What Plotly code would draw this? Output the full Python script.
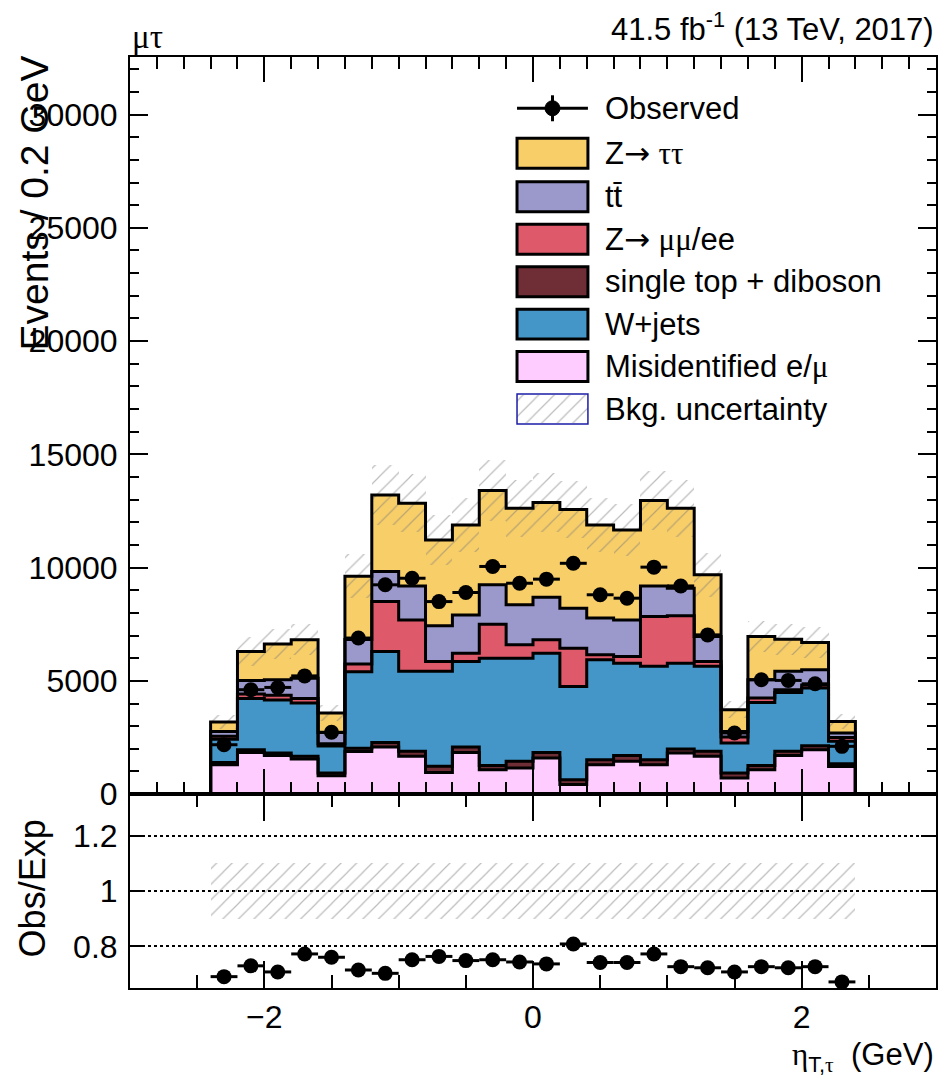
import plotly.graph_objects as go

# ---------------- data ----------------
bin_lo = -2.4
bin_w = 0.2
x_min, x_max = -3.0, 3.0

misid = [1300, 1840, 1700, 1550, 810, 1880, 2080, 1670, 960, 1840, 1080, 1150,
         1590, 420, 1300, 1450, 1300, 1810, 1670, 710, 1080, 1700, 1960, 1220]
stvv = [100, 120, 110, 120, 120, 140, 200, 220, 270, 240, 180, 300,
        250, 220, 220, 250, 220, 180, 220, 220, 180, 190, 180, 120]
wjets = [1020, 2260, 2340, 2350, 1190, 3380, 4020, 3530, 4190, 3780, 4740, 4550,
         4380, 4110, 4410, 4080, 4120, 3790, 3750, 1330, 2790, 2600, 2540, 990]
dyll = [140, 200, 210, 200, 100, 340, 2200, 2270, 440, 360, 1500, 590,
        590, 1690, 220, 300, 2200, 2090, 220, 260, 190, 120, 140, 170]
ttbar = [200, 600, 690, 900, 500, 1090, 1330, 1500, 1570, 1690, 1740, 1770,
         1880, 1770, 1620, 1610, 1350, 1220, 1100, 250, 810, 810, 670, 200]
ztt = [420, 1280, 1580, 1690, 860, 2790, 3370, 3650, 3790, 3970, 4160, 4260,
       4180, 4360, 4110, 3970, 3770, 3530, 2720, 950, 1910, 1420, 1200, 510]
observed = [2180, 4610, 4710, 5220, 2730, 6890, 9240, 9530, 8500, 8900, 10050, 9310,
            9490, 10190, 8800, 8650, 10020, 9190, 7030, 2700, 5050, 5020, 4870, 2110]
ratio = [0.691, 0.730, 0.708, 0.773, 0.761, 0.715, 0.703, 0.752, 0.764, 0.749, 0.752, 0.744,
         0.737, 0.809, 0.742, 0.742, 0.773, 0.727, 0.723, 0.708, 0.727, 0.723, 0.727, 0.672]
bkg_unc = [0.10, 0.10, 0.10, 0.10, 0.10, 0.10, 0.10, 0.10, 0.10, 0.10, 0.10, 0.10,
           0.10, 0.10, 0.10, 0.10, 0.10, 0.10, 0.10, 0.10, 0.10, 0.10, 0.10, 0.10]

names = ["Misidentified e/μ", "single top + diboson", "W+jets", "Z→ μμ/ee", "tt̄", "Z→ ττ"]
colors = ["#FFCCFF", "#6F2D35", "#4496C8", "#DE5A6A", "#9B98CC", "#F8CE68"]
components = [misid, stvv, wjets, dyll, ttbar, ztt]

# ---------------- geometry ----------------
W, H = 940, 1087
L, R, T, B = 129.5, 3.5, 56.7, 98.7
PW, PH = W - L - R, H - T - B
split = 194.0 / PH
y_max = 32540

def px(xp):
    return (xp - L) / PW

def py(yp):
    return (H - B - yp) / PH

nb = len(observed)
centers = [round(bin_lo + bin_w * (i + 0.5), 3) for i in range(nb)]
edges = [round(bin_lo + bin_w * i, 3) for i in range(nb + 1)]

hatch = dict(shape="/", fgcolor="#7a7a7a", bgcolor="rgba(0,0,0,0)", size=11, solidity=0.11)

fig = go.Figure()

# stacked histogram
cum = [0.0] * nb
tops = []
for comp, col, nm in zip(components, colors, names):
    fig.add_trace(go.Bar(x=centers, y=comp, base=cum[:], width=bin_w,
                         marker=dict(color=col, line=dict(width=0)),
                         name=nm, showlegend=False, xaxis="x", yaxis="y"))
    cum = [c + v for c, v in zip(cum, comp)]
    tops.append(cum[:])
total = cum

# uncertainty band (main)
fig.add_trace(go.Bar(x=centers, y=[2 * u * t for u, t in zip(bkg_unc, total)],
                     base=[t * (1 - u) for u, t in zip(bkg_unc, total)], width=bin_w,
                     marker=dict(color="rgba(0,0,0,0)", line=dict(width=0), pattern=hatch),
                     showlegend=False, xaxis="x", yaxis="y"))

# histogram outlines (steps)
for top in tops:
    xs = [x_min] + edges[:-1] + [edges[-1], x_max]
    ys = [0] + top + [0, 0]
    fig.add_trace(go.Scatter(x=xs, y=ys, mode="lines", line=dict(color="black", width=3, shape="hv"),
                             showlegend=False, hoverinfo="skip", xaxis="x", yaxis="y"))

# observed
fig.add_trace(go.Scatter(x=centers, y=observed, mode="markers",
                         marker=dict(color="black", size=15),
                         error_x=dict(type="constant", value=bin_w / 2, thickness=3, width=0, color="black"),
                         showlegend=False, xaxis="x", yaxis="y"))

# ratio panel
fig.add_trace(go.Bar(x=centers, y=[2 * u for u in bkg_unc], base=[1 - u for u in bkg_unc], width=bin_w,
                     marker=dict(color="rgba(0,0,0,0)", line=dict(width=0), pattern=hatch),
                     showlegend=False, xaxis="x2", yaxis="y2"))
fig.add_trace(go.Scatter(x=centers, y=ratio, mode="markers",
                         marker=dict(color="black", size=15),
                         error_x=dict(type="constant", value=bin_w / 2, thickness=3, width=0, color="black"),
                         showlegend=False, xaxis="x2", yaxis="y2"))

# ---------------- legend (pixel-space overlay axes) ----------------
leg_rows = [108, 153, 196.5, 239, 281.5, 324, 366.5, 409]
box_x0, box_x1, box_h = 517, 588, 30
text_x = 603
font_main = "Liberation Sans, Arial, sans-serif"
SERIF = "<span style=\"font-family:Liberation Serif\">"
ARROW = "<span style=\"font-family:DejaVu Sans\">→</span>"
shapes = []
annotations = []

# Observed entry
shapes.append(dict(type="line", xref="x3", yref="y3", x0=box_x0, x1=box_x1, y0=leg_rows[0], y1=leg_rows[0],
                   line=dict(color="black", width=3)))
shapes.append(dict(type="line", xref="x3", yref="y3", x0=552.5, x1=552.5, y0=leg_rows[0] - 13, y1=leg_rows[0] + 13,
                   line=dict(color="black", width=3)))
shapes.append(dict(type="circle", xref="x3", yref="y3", x0=545, x1=560, y0=leg_rows[0] - 7.5, y1=leg_rows[0] + 7.5,
                   fillcolor="black", line=dict(color="black", width=1)))
leg_labels = ["Observed", "Z" + ARROW + " " + SERIF + "ττ</span>", "tt̄",
              "Z" + ARROW + " " + SERIF + "μμ</span>/ee", "single top + diboson", "W+jets",
              "Misidentified e/" + SERIF + "μ</span>", "Bkg. uncertainty"]
leg_colors = ["#F8CE68", "#9B98CC", "#DE5A6A", "#6F2D35", "#4496C8", "#FFCCFF"]
for i, col in enumerate(leg_colors):
    yc = leg_rows[i + 1]
    shapes.append(dict(type="rect", xref="x3", yref="y3", x0=box_x0, x1=box_x1, y0=yc - box_h / 2, y1=yc + box_h / 2,
                       fillcolor=col, line=dict(color="black", width=3)))
yc = leg_rows[7]
fig.add_trace(go.Bar(x=[(box_x0 + box_x1) / 2], y=[box_h - 2], base=[yc - box_h / 2 + 1], width=[box_x1 - box_x0],
                     marker=dict(color="rgba(0,0,0,0)", line=dict(width=0), pattern=hatch),
                     showlegend=False, hoverinfo="skip", xaxis="x3", yaxis="y3"))
shapes.append(dict(type="rect", xref="x3", yref="y3", x0=box_x0, x1=box_x1, y0=yc - box_h / 2, y1=yc + box_h / 2,
                   line=dict(color="#1c1ca8", width=1.5)))
for lab, yc in zip(leg_labels, leg_rows):
    annotations.append(dict(xref="x3", yref="y3", x=text_x, y=yc, text=lab, showarrow=False,
                            xanchor="left", yanchor="middle", font=dict(size=31, color="black", family=font_main)))

# ---------------- texts ----------------
annotations.append(dict(xref="paper", yref="paper", x=px(129), y=py(37), text="μτ", showarrow=False,
                        xanchor="left", yanchor="middle",
                        font=dict(size=33, color="black", family="Liberation Serif, DejaVu Serif, serif")))
annotations.append(dict(xref="paper", yref="paper", x=px(937), y=py(27),
                        text="41.5 fb<sup>-1</sup> (13 TeV, 2017)", showarrow=False,
                        xanchor="right", yanchor="middle", font=dict(size=31, color="black", family=font_main)))
annotations.append(dict(xref="paper", yref="paper", x=px(34), y=py(53), text="Events / 0.2 GeV",
                        showarrow=False, textangle=-90, xanchor="center", yanchor="top",
                        font=dict(size=39, color="black", family=font_main)))
annotations.append(dict(xref="paper", yref="paper", x=px(32), y=py(889), text="Obs/Exp",
                        showarrow=False, textangle=-90, xanchor="center", yanchor="middle",
                        font=dict(size=36, color="black", family=font_main)))
annotations.append(dict(xref="paper", yref="paper", x=px(937), y=py(1057),
                        text=SERIF + "η</span><sub>T," + SERIF + "τ</span></sub>  (GeV)",
                        showarrow=False, xanchor="right", yanchor="middle",
                        font=dict(size=31, color="black", family=font_main)))

tickfont = dict(size=32, color="black", family=font_main)
axis_common = dict(showline=True, linecolor="black", linewidth=2, mirror="ticks", ticks="inside",
                   tickcolor="black", tickwidth=2, zeroline=False, showgrid=False)

fig.update_layout(
    width=W, height=H,
    margin=dict(l=L, r=R, t=T, b=B, pad=0, autoexpand=False),
    paper_bgcolor="white", plot_bgcolor="white",
    barmode="overlay", bargap=0,
    showlegend=False,
    shapes=shapes, annotations=annotations,
    xaxis=dict(domain=[0, 1], range=[x_min, x_max], anchor="y", showticklabels=False,
               tick0=0, dtick=2, ticklen=25,
               minor=dict(ticks="inside", dtick=0.2, tick0=0, ticklen=12, tickcolor="black", tickwidth=2),
               **axis_common),
    yaxis=dict(domain=[split, 1], range=[0, y_max], anchor="x", tick0=0, dtick=5000, ticklen=18,
               tickformat="d", tickfont=tickfont, ticklabelstandoff=4,
               minor=dict(ticks="inside", dtick=1000, ticklen=9, tickcolor="black", tickwidth=2),
               **axis_common),
    xaxis2=dict(domain=[0, 1], range=[x_min, x_max], anchor="y2", tick0=0, dtick=2, ticklen=27,
                tickfont=tickfont, ticklabelstandoff=0,
                minor=dict(ticks="inside", dtick=0.5, tick0=0, ticklen=13, tickcolor="black", tickwidth=2),
                **axis_common),
    yaxis2=dict(domain=[0, split], range=[0.65, 1.35], anchor="x2", tickvals=[0.8, 1.0, 1.2],
                ticktext=["0.8", "1", "1.2"], ticklen=15, tickfont=tickfont, ticklabelstandoff=4,
                showline=True, linecolor="black", linewidth=2, mirror="ticks", ticks="inside",
                tickcolor="black", tickwidth=2, zeroline=False,
                showgrid=True, gridcolor="black", griddash="dot", gridwidth=1.5),
    xaxis3=dict(overlaying="x", range=[L, W - R], visible=False, anchor="y3"),
    yaxis3=dict(overlaying="y", range=[H - B - split * PH, T], visible=False, anchor="x3"),
)

fig.write_html("out.html", config={"displayModeBar": False},
               post_script="document.body.style.margin='0';document.body.style.padding='0';")
